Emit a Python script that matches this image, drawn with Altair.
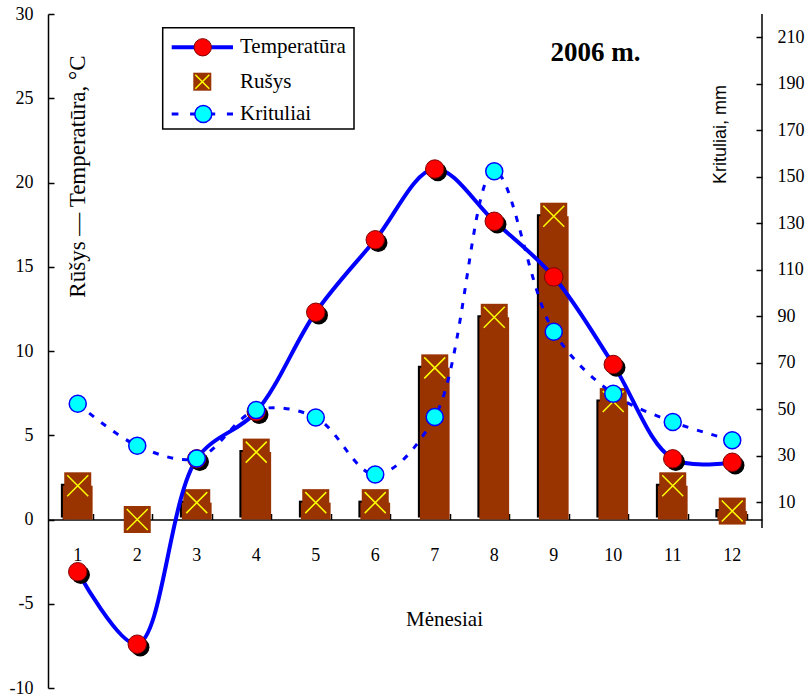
import altair as alt
import pandas as pd

# ---------------- data ----------------
months = [1, 2, 3, 4, 5, 6, 7, 8, 9, 10, 11, 12]
temperatura = [-3.1, -7.4, 3.6, 6.4, 12.3, 16.6, 20.8, 17.7, 14.4, 9.2, 3.6, 3.4]
rusys = [2, 0, 1, 4, 1, 1, 9, 12, 18, 7, 2, 0.5]
krituliai = [52.4, 34.4, 28.9, 49.7, 46.5, 22.0, 46.7, 152.4, 83.4, 56.7, 44.6, 36.7]
left_ticks = [-10, -5, 0, 5, 10, 15, 20, 25, 30]
right_ticks = [10, 30, 50, 70, 90, 110, 130, 150, 170, 190, 210]
left_domain = [-10, 30]
right_domain = [-69.8, 220]
right_axis_span = [-1, 220]
legend_labels = ["Temperatūra", "Rušys", "Krituliai"]
title_text = "2006 m."
x_title = "Mėnesiai"
yl_title = "Rūšys — Temperatūra, °C"
yr_title = "Krituliai, mm"

# ---------------- style ----------------
SERIF = "Liberation Serif"
SANS = "Liberation Sans"
BLUE = "#0000FF"
RED = "#FF0000"
CYAN = "#00FFFF"
BROWN = "#993300"
YELLOW = "#FFFF00"
W, H = 714, 674
X_PATH = "M-1,-1L1,1M-1,1L1,-1"

df = pd.DataFrame({"month": months, "temp": temperatura, "rusys": rusys, "krit": krituliai})

xscale = alt.Scale(domain=months, paddingInner=0.5, paddingOuter=0.25)
yl_scale = alt.Scale(domain=left_domain, nice=False, zero=False)
yr_scale = alt.Scale(domain=right_domain, nice=False, zero=False)

x_axis_ticks = alt.Axis(orient="top", offset=-505.5, labels=False, ticks=True, tickBand="extent",
                        tickSize=6, tickWidth=1.5, tickColor="black", domain=True,
                        domainColor="black", domainWidth=1.5, grid=False, title=None)
x_axis_labels = alt.Axis(orient="bottom", offset=-168.5, labels=True, ticks=False, domain=False,
                         grid=False, labelAngle=0, labelFont=SERIF, labelFontSize=18,
                         labelColor="black", labelPadding=27, title=x_title, titleFont=SERIF,
                         titleFontSize=21, titleFontWeight="normal", titleColor="black",
                         titleX=396, titleY=100, titleAlign="center", titleBaseline="middle")
yl_axis = alt.Axis(orient="right", offset=-W, values=left_ticks, tickSize=6, tickWidth=1.5,
                   tickColor="black", domain=True, domainColor="black", domainWidth=1.5,
                   grid=False, labelFont=SERIF, labelFontSize=18, labelColor="black",
                   labelAlign="right", labelPadding=-21, labelBaseline="middle",
                   labelExpr="'' + datum.value", title=yl_title, titleFont=SERIF,
                   titleFontSize=23, titleFontWeight="normal", titleColor="black",
                   titleAngle=270, titleX=29, titleY=162, titleAlign="center",
                   titleBaseline="middle")
yr_axis = alt.Axis(orient="left", offset=-W, values=right_ticks, tickSize=6, tickWidth=1.5,
                   tickColor="black", domain=False, grid=False, labelFont=SERIF,
                   labelFontSize=18, labelColor="black", labelAlign="left", labelPadding=-21,
                   labelBaseline="middle", title=yr_title, titleFont=SANS, titleFontSize=18,
                   titleFontWeight="normal", titleColor="black", titleAngle=270, titleX=-42,
                   titleY=120, titleAlign="center", titleBaseline="middle")

XB = alt.X("month:O", scale=xscale, axis=x_axis_ticks)
XP = alt.X("month:O", scale=xscale, axis=x_axis_ticks, bandPosition=0.5)
XR = alt.X("month:O", scale=xscale, axis=x_axis_labels, bandPosition=0.5)


def YL(f):
    return alt.Y(f"{f}:Q", scale=yl_scale, axis=yl_axis)


def YR(f):
    return alt.Y(f"{f}:Q", scale=yr_scale, axis=yr_axis)


base = alt.Chart(df)

bar_shadow = base.mark_bar(color="black", xOffset=-2, yOffset=-2).encode(x=XB, y=YL("rusys"))
bar_main = base.mark_bar(color=BROWN).encode(x=XB, y=YL("rusys"))
rus_sq = base.mark_point(shape="square", filled=True, fill=BROWN, size=729, opacity=1,
                         strokeWidth=0).encode(x=XP, y=YL("rusys"))
rus_x = base.mark_point(shape=X_PATH, filled=False, stroke=YELLOW, strokeWidth=1.5, size=441,
                        opacity=1).encode(x=XP, y=YL("rusys"))
temp_line = base.mark_line(color=BLUE, strokeWidth=4, interpolate="catmull-rom").encode(
    x=XP, y=YL("temp"))
temp_shadow = base.transform_filter(alt.datum.month != 9).mark_point(
    filled=True, fill="black", size=340, xOffset=3, yOffset=3, opacity=1, strokeWidth=0
).encode(x=XP, y=YL("temp"))
temp_pts = base.mark_point(filled=True, fill=RED, stroke="#800000", strokeWidth=1, size=340,
                           opacity=1).encode(x=XP, y=YL("temp"))

left = alt.layer(bar_shadow, bar_main, rus_sq, rus_x, temp_line, temp_shadow, temp_pts)

krit_line = base.mark_line(color=BLUE, strokeWidth=3, strokeDash=[6, 9],
                           interpolate="catmull-rom").encode(x=XR, y=YR("krit"))
krit_pts = base.mark_point(filled=True, fill=CYAN, stroke=BLUE, strokeWidth=1.5, size=290,
                           opacity=1).encode(x=XR, y=YR("krit"))
raxis = alt.Chart(pd.DataFrame({"lo": [right_axis_span[0]], "hi": [right_axis_span[1]]})).mark_rule(
    color="black", strokeWidth=1.5).encode(x=alt.value(W), y=YR("lo"), y2="hi:Q")

right = alt.layer(krit_line, krit_pts, raxis)

# ---------------- legend & title ----------------
LEG_Y = [33.3, 67.7, 100]
leg_rows = [pd.DataFrame({"label": [lab]}) for lab in legend_labels]

leg_box = alt.Chart(leg_rows[0]).mark_rect(fill="white", stroke="black", strokeWidth=1.5).encode(
    x=alt.value(114.7), x2=alt.value(306), y=alt.value(13.7), y2=alt.value(115))
leg_t_line = alt.Chart(leg_rows[0]).mark_rule(color=BLUE, strokeWidth=4).encode(
    x=alt.value(123.7), x2=alt.value(185), y=alt.value(LEG_Y[0]))
leg_t_pt = alt.Chart(leg_rows[0]).mark_point(filled=True, fill=RED, stroke="#800000",
                                              strokeWidth=1, size=300, opacity=1).encode(
    x=alt.value(154.7), y=alt.value(LEG_Y[0]))
leg_r_sq = alt.Chart(leg_rows[1]).mark_point(shape="square", filled=True, fill=BROWN, size=324,
                                              opacity=1, strokeWidth=0).encode(
    x=alt.value(154.3), y=alt.value(LEG_Y[1]))
leg_r_x = alt.Chart(leg_rows[1]).mark_point(shape=X_PATH, filled=False, stroke=YELLOW,
                                             strokeWidth=1.5, size=196, opacity=1).encode(
    x=alt.value(154.3), y=alt.value(LEG_Y[1]))
leg_k_line = alt.Chart(leg_rows[2]).mark_rule(color=BLUE, strokeWidth=3,
                                               strokeDash=[6.7, 11.7]).encode(
    x=alt.value(123.7), x2=alt.value(185), y=alt.value(LEG_Y[2]))
leg_k_pt = alt.Chart(leg_rows[2]).mark_point(filled=True, fill=CYAN, stroke=BLUE, strokeWidth=1.5,
                                              size=290, opacity=1).encode(
    x=alt.value(155.3), y=alt.value(LEG_Y[2]))
leg_texts = [
    alt.Chart(leg_rows[i]).mark_text(align="left", baseline="middle", font=SERIF, fontSize=21,
                                     color="black").encode(
        x=alt.value(192), y=alt.value(LEG_Y[i]), text="label:N")
    for i in range(3)
]
title_mark = alt.Chart(pd.DataFrame({"t": [title_text]})).mark_text(
    align="center", baseline="middle", font=SERIF, fontSize=27, fontWeight="bold",
    color="black").encode(x=alt.value(547.5), y=alt.value(39), text="t:N")

legend = alt.layer(leg_box, leg_t_line, leg_t_pt, leg_r_sq, leg_r_x, leg_k_line, leg_k_pt,
                   *leg_texts, title_mark)

chart = (
    alt.layer(left, right, legend)
    .resolve_scale(x="shared", y="independent")
    .resolve_axis(x="independent", y="independent")
    .properties(
        width=W,
        height=H,
        padding={"left": 48, "top": 14, "right": 47, "bottom": 10},
        autosize=alt.AutoSizeParams(type="none"),
        background="white",
    )
    .configure_view(stroke=None)
)

chart.save("out.html", embed_options={"renderer": "svg", "actions": False})
